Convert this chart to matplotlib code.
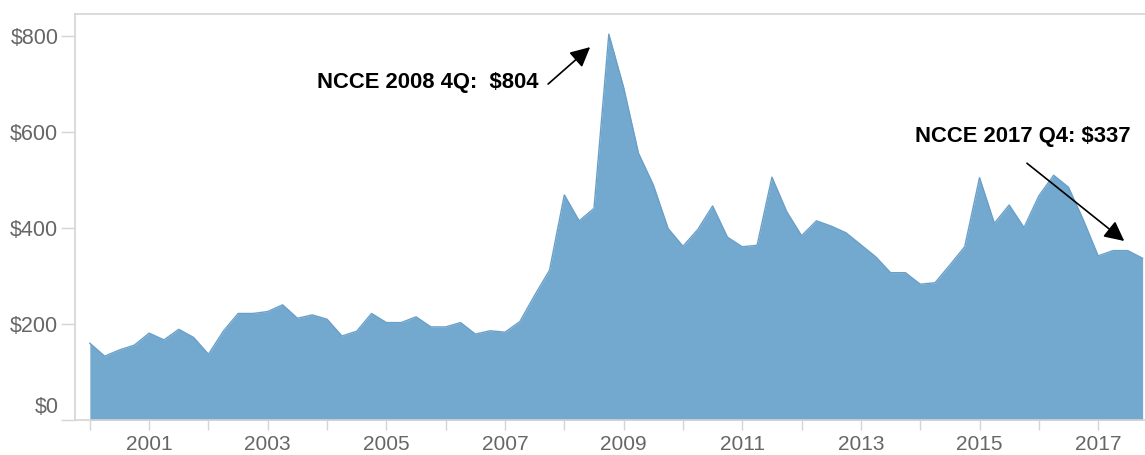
import matplotlib
matplotlib.use("Agg")
import matplotlib.pyplot as plt
import matplotlib.transforms as mtransforms
import numpy as np

# Quarterly values 2000 Q1 .. 2017 Q4
years = list(range(2000, 2018))
quarters = [1, 2, 3, 4]
values = [160, 133, 146, 156, 181, 167, 189, 172, 137, 185, 222, 222,
          226, 240, 212, 219, 210, 175, 185, 222, 203, 203, 215, 194,
          194, 203, 179, 186, 183, 205, 260, 312, 469, 415, 441, 804,
          693, 556, 490, 399, 362, 397, 446, 381, 361, 364, 506, 434,
          384, 415, 404, 390, 365, 340, 307, 307, 283, 286, 323, 361,
          505, 410, 448, 401, 467, 510, 485, 417, 342, 353, 353, 337]
x = np.array([y + (q - 1) / 4 for y in years for q in quarters])

ytick_vals = [0, 200, 400, 600, 800]
ytick_labels = ["$0", "$200", "$400", "$600", "$800"]
xtick_labels = [str(y) if y % 2 == 1 else "" for y in years]

ann1_text = "NCCE 2008 4Q:  $804"
ann2_text = "NCCE 2017 Q4: $337"

plt.rcParams['font.family'] = ['Liberation Sans', 'DejaVu Sans']

fig = plt.figure(figsize=(11.45, 4.55), dpi=100)
ax = fig.add_axes([75 / 1145, 35 / 455, 1070 / 1145, 406 / 455])

fill_color = '#74a9cf'
ax.fill_between(x, values, 0, color=fill_color, linewidth=0)
ax.plot(x, values, color='#6a9fc8', linewidth=1.0)

ax.set_xlim(1999.75, 2017.79)
ax.set_ylim(0, 846)

ax.set_yticks(ytick_vals)
ax.set_yticklabels(ytick_labels)
ax.set_xticks(years)
ax.set_xticklabels(xtick_labels)

spine_col = '#d4d4d4'
for s in ['left', 'top', 'bottom']:
    ax.spines[s].set_color(spine_col)
    ax.spines[s].set_linewidth(1.2)
ax.spines['right'].set_visible(False)

ax.tick_params(axis='y', length=10, width=1, color=spine_col, labelsize=15.5,
               labelcolor='#666666', pad=2)
ax.tick_params(axis='x', length=7, width=1, color=spine_col, labelsize=15,
               labelcolor='#666666', pad=4)

# shift the $0 label upward like the reference
lbl0 = ax.get_yticklabels()[0]
lbl0.set_transform(lbl0.get_transform() +
                   mtransforms.ScaledTranslation(0, 15 / 100, fig.dpi_scale_trans))

# Annotations
ax.text(2007.56, 704, ann1_text, ha='right', va='center', fontsize=15.8,
        fontweight='bold', color='black')
ax.annotate("", xy=(2008.435, 777), xytext=(2007.726, 700),
            arrowprops=dict(arrowstyle='-|>', color='black', lw=1.2,
                            mutation_scale=30, shrinkA=0, shrinkB=0))

ax.text(2013.915, 590, ann2_text, ha='left', va='center', fontsize=15.8,
        fontweight='bold', color='black')
ax.annotate("", xy=(2017.44, 373), xytext=(2015.80, 535),
            arrowprops=dict(arrowstyle='-|>', color='black', lw=1.2,
                            mutation_scale=30, shrinkA=0, shrinkB=0))

fig.savefig("out.png", dpi=100)
